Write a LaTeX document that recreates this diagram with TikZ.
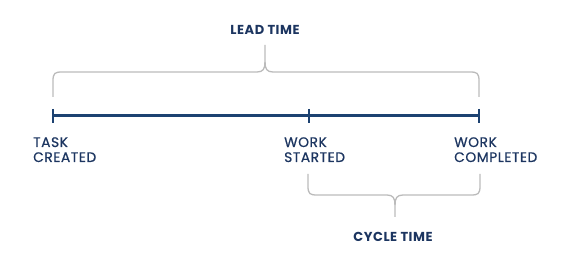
\documentclass[tikz,border=0pt]{standalone}
\usepackage{fontspec}
\setmainfont{Poppins}[LetterSpace=4]
\newfontfamily\labelfont{Poppins}[LetterSpace=4,FakeBold=0.7]
\usepackage{tikz}
\definecolor{navy}{HTML}{1D4271}
\definecolor{textnavy}{HTML}{1C3560}
\definecolor{bracegray}{HTML}{BBBBBB}

\begin{document}
\begin{tikzpicture}[x=1pt,y=-1pt,
	tickmark/.style={navy,line width=2.6pt},
	gbrace/.style={bracegray,line width=1.3pt},
	eventlabel/.style={textnavy,font=\labelfont\fontsize{13.8}{15}\selectfont,anchor=base west,align=left,inner sep=0},
	spanlabel/.style={textnavy,font=\fontsize{13}{15}\bfseries,anchor=base,inner sep=0}]
	\useasboundingbox (0,0) rectangle (579,259);
	% points on the timeline
	\coordinate (created) at (53,116);
	\coordinate (started) at (309,116);
	\coordinate (completed) at (479,116);
	% timeline
	\draw[navy,line width=3pt] (created) -- (completed);
	\draw[tickmark] (53,109) -- (53,123);
	\draw[tickmark] (309,109) -- (309,123);
	\draw[tickmark] (479,109) -- (479,123);
	% braces
	\draw[gbrace] (53,97) -- (53,81) .. controls (53,73) and (55,72) .. (62,72) -- (257,72) .. controls (263,72) and (265,69) .. (265,62) -- (265,45);
	\draw[gbrace] (479,97) -- (479,81) .. controls (479,73) and (477,72) .. (470,72) -- (273,72) .. controls (267,72) and (265,69) .. (265,62);
	\draw[gbrace] (308,174) -- (308,186) .. controls (308,194) and (310,195) .. (317,195) -- (387,195) .. controls (393,195) and (395,198) .. (395,205) -- (395,217);
	\draw[gbrace] (480,174) -- (480,186) .. controls (480,194) and (478,195) .. (471,195) -- (403,195) .. controls (397,195) and (395,198) .. (395,205);
	% labels
	\node[eventlabel] (createdtext) at (33,162) {TASK\\CREATED};
	\node[eventlabel] (startedtext) at (284,162) {WORK\\STARTED};
	\node[eventlabel] (completedtext) at (454,162) {WORK\\COMPLETED};
	\node[spanlabel] (leadtext) at (265,35) {LEAD TIME};
	\node[spanlabel] (cycletext) at (393,241) {CYCLE TIME};
\end{tikzpicture}
\end{document}
